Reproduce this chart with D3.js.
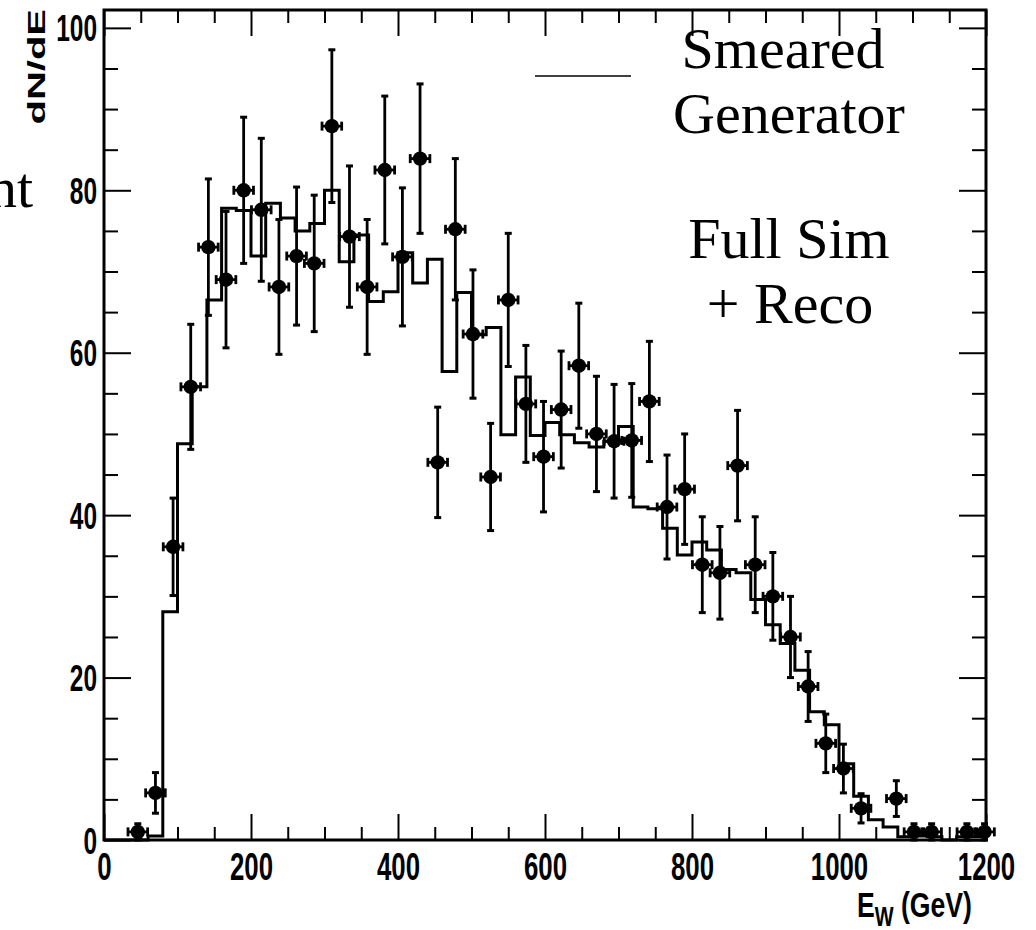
<!DOCTYPE html>
<html>
<head>
<meta charset="utf-8">
<script src="https://cdn.jsdelivr.net/npm/d3@7"></script>
<style>
body { margin: 0; background: #fff; }
</style>
</head>
<body>
<svg width="1036" height="930"></svg>
<script>
// generator histogram, 20 GeV bins from 0 to 1200
var binLow = [0,20,40,60,80,100,120,140,160,180,200,220,240,260,280,300,320,340,360,380,
    400,420,440,460,480,500,520,540,560,580,600,620,640,660,680,700,720,740,760,780,
    800,820,840,860,880,900,920,940,960,980,1000,1020,1040,1060,1080,1100,1120,1140,1160,1180];
var genCounts = [0,0,0,0.5,28.1,48.8,55.8,66.5,77.8,77.5,71.9,78.4,76.6,75.0,75.9,80.0,71.2,74.5,66.3,67.5,
    72.3,68.6,71.5,57.7,67.4,62.2,63.1,49.9,57.0,49.8,51.4,49.9,48.9,48.4,49.1,50.9,41.0,40.8,38.4,35.1,
    36.7,35.7,33.3,32.9,29.6,26.5,24.2,20.9,15.8,14.2,9.4,5.4,2.5,1.6,0.4,0.5,0.4,0,0.4,0.4];

// full sim + reco points
var recoE = [46,70,94,118,142,166,190,214,238,262,286,310,334,358,382,406,430,454,478,502,
    526,550,574,598,622,646,670,694,718,742,766,790,814,838,862,886,910,934,958,982,
    1006,1030,1054,1078,1102,1126,1150,1174,1198];
var recoCounts = [1.0,5.8,36.1,55.8,73.0,69.0,80.0,77.6,68.1,71.9,71.0,87.9,74.3,68.1,82.5,71.8,83.9,46.5,75.2,62.3,
    44.7,66.5,53.7,47.2,53.0,58.4,50.0,49.1,49.2,54.0,41.0,43.2,33.9,32.9,46.1,33.9,30.0,25.0,18.9,11.9,
    8.8,3.9,null,5.1,1.0,1.0,null,1.0,1.0];
var recoErr = [1.0,2.5,6.0,7.7,8.4,8.4,9.0,8.8,8.3,8.5,8.4,9.4,8.7,8.3,9.1,8.5,9.2,6.8,8.7,7.9,
    6.6,8.2,7.2,6.8,7.2,7.7,7.1,7.0,7.0,7.4,6.4,6.8,5.9,5.7,6.8,5.9,5.4,5.0,4.3,3.6,
    3.0,1.8,0,2.2,1.0,1.0,0,1.0,1.0];
var halfBin = 12;

var xMajor = [0,200,400,600,800,1000,1200];
var xMinor = [50,100,150,250,300,350,450,500,550,650,700,750,850,900,950,1050,1100,1150];
var yMajor = [0,20,40,60,80,100];
var yMinor = [5,10,15,25,30,35,45,50,55,65,70,75,85,90,95];

var legendLines = [
    {text: "Smeared", x: 783, y: 68},
    {text: "Generator", x: 789, y: 133},
    {text: "Full Sim", x: 789, y: 258},
    {text: "+ Reco", x: 790, y: 323}
];

var svg = d3.select("svg"),
    frame = {left: 104, right: 986, top: 10, bottom: 840};

var x = d3.scaleLinear().domain([0, 1200]).range([frame.left, frame.right]);
var y = d3.scaleLinear().domain([0, 102.2]).range([frame.bottom, frame.top]);

var sans = "'Liberation Sans', Arial, sans-serif";
var serif = "'Liberation Serif', 'Times New Roman', serif";
var squeeze = 0.68;

// histogram outline
var steps = binLow.map(function(b, i) { return [b, genCounts[i]]; });
steps.push([1200, genCounts[genCounts.length - 1]]);
var line = d3.line()
    .curve(d3.curveStepAfter)
    .x(function(d) { return x(d[0]); })
    .y(function(d) { return y(d[1]); });

svg.append("path")
    .datum(steps)
    .attr("fill", "none")
    .attr("stroke", "#000")
    .attr("stroke-width", 3)
    .attr("d", line);

// data points
var pts = recoE.map(function(e, i) {
    return {e: e, v: recoCounts[i], err: recoErr[i]};
}).filter(function(d) { return d.v !== null; });

var g = svg.append("g").attr("stroke", "#000");

pts.forEach(function(d) {
    var cx = x(d.e), cy = y(d.v);
    var y1 = y(d.v + d.err), y2 = y(Math.max(d.v - d.err, 0));
    var x1 = x(d.e - halfBin) - 1, x2 = x(d.e + halfBin) + 1;
    g.append("line").attr("x1", cx).attr("x2", cx).attr("y1", y1).attr("y2", y2).attr("stroke-width", 2.8);
    g.append("line").attr("x1", cx - 3.5).attr("x2", cx + 3.5).attr("y1", y1).attr("y2", y1).attr("stroke-width", 3);
    g.append("line").attr("x1", cx - 3.5).attr("x2", cx + 3.5).attr("y1", y2).attr("y2", y2).attr("stroke-width", 3);
    g.append("line").attr("x1", x1).attr("x2", x2).attr("y1", cy).attr("y2", cy).attr("stroke-width", 2.8);
    g.append("line").attr("x1", x1).attr("x2", x1).attr("y1", cy - 4.5).attr("y2", cy + 4.5).attr("stroke-width", 2.8);
    g.append("line").attr("x1", x2).attr("x2", x2).attr("y1", cy - 4.5).attr("y2", cy + 4.5).attr("stroke-width", 2.8);
    g.append("circle").attr("cx", cx).attr("cy", cy).attr("r", 7.2).attr("fill", "#000").attr("stroke", "none");
});

// axes (ticks point inward, on all four sides)
function tickStyle(sel) {
    sel.select(".domain").remove();
    sel.selectAll("line").attr("stroke", "#000").attr("stroke-width", 2);
}

svg.append("g").attr("transform", "translate(0," + frame.bottom + ")")
    .call(d3.axisBottom(x).tickValues(xMinor).tickSize(-13).tickFormat(""))
    .call(tickStyle);
svg.append("g").attr("transform", "translate(0," + frame.top + ")")
    .call(d3.axisTop(x).tickValues(xMinor).tickSize(-13).tickFormat(""))
    .call(tickStyle);
svg.append("g").attr("transform", "translate(0," + frame.top + ")")
    .call(d3.axisTop(x).tickValues(xMajor).tickSize(-26).tickFormat(""))
    .call(tickStyle);

var xAxis = svg.append("g").attr("transform", "translate(0," + frame.bottom + ")")
    .call(d3.axisBottom(x).tickValues(xMajor).tickSize(-26).tickFormat(d3.format("d")))
    .call(tickStyle);
xAxis.selectAll("text")
    .attr("y", 40).attr("dy", null)
    .attr("fill", "#000")
    .style("font-family", sans).style("font-weight", "bold").style("font-size", "38px")
    .attr("transform", "scale(" + squeeze + ",1)");

svg.append("g").attr("transform", "translate(" + frame.left + ",0)")
    .call(d3.axisLeft(y).tickValues(yMinor).tickSize(-14).tickFormat(""))
    .call(tickStyle);
svg.append("g").attr("transform", "translate(" + frame.right + ",0)")
    .call(d3.axisRight(y).tickValues(yMinor).tickSize(-14).tickFormat(""))
    .call(tickStyle);
svg.append("g").attr("transform", "translate(" + frame.right + ",0)")
    .call(d3.axisRight(y).tickValues(yMajor).tickSize(-27).tickFormat(""))
    .call(tickStyle);

var yAxis = svg.append("g").attr("transform", "translate(" + frame.left + ",0)")
    .call(d3.axisLeft(y).tickValues(yMajor).tickSize(-27).tickFormat(d3.format("d")))
    .call(tickStyle);
yAxis.selectAll("text")
    .attr("x", -7 / squeeze).attr("y", 13).attr("dy", null)
    .attr("fill", "#000")
    .style("font-family", sans).style("font-weight", "bold").style("font-size", "36px")
    .attr("transform", "scale(" + squeeze + ",1)");

// frame
svg.append("rect")
    .attr("x", frame.left).attr("y", frame.top)
    .attr("width", frame.right - frame.left).attr("height", frame.bottom - frame.top)
    .attr("fill", "none").attr("stroke", "#000").attr("stroke-width", 3);

// axis titles
var xTitle = svg.append("text")
    .attr("transform", "translate(972,917) scale(0.74,1)")
    .attr("text-anchor", "end")
    .style("font-family", sans).style("font-weight", "bold").style("font-size", "36px");
xTitle.append("tspan").text("E");
xTitle.append("tspan").attr("dy", 9).style("font-size", "27px").text("W");
xTitle.append("tspan").attr("dy", -9).text(" (GeV)");

svg.append("text")
    .attr("transform", "translate(45,9) scale(0.62,1) rotate(-90)")
    .attr("text-anchor", "end")
    .style("font-family", sans).style("font-weight", "bold").style("font-size", "40px")
    .text("dN/dE");

// legend
svg.append("line")
    .attr("x1", 535).attr("x2", 631).attr("y1", 76).attr("y2", 76)
    .attr("stroke", "#000").attr("stroke-width", 1.5);

svg.selectAll(".leg")
    .data(legendLines)
    .enter().append("text")
    .attr("class", "leg")
    .attr("x", function(d) { return d.x; })
    .attr("y", function(d) { return d.y; })
    .attr("text-anchor", "middle")
    .style("font-family", serif).style("font-size", "58px")
    .text(function(d) { return d.text; });

// clipped caption on the far left
svg.append("text")
    .attr("x", 33).attr("y", 207)
    .attr("text-anchor", "end")
    .style("font-family", serif).style("font-size", "58px")
    .text("nt");
</script>
</body>
</html>
